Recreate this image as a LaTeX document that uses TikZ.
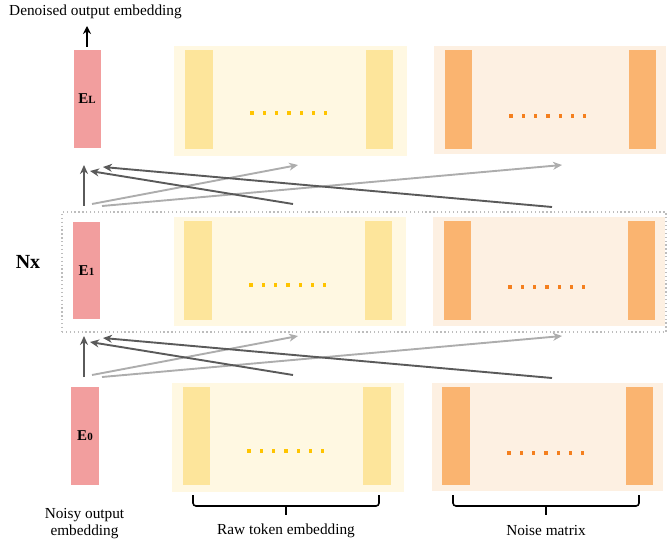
\documentclass[tikz,border=0pt]{standalone}
\usepackage{fontspec}
\setmainfont{Liberation Serif}
\usetikzlibrary{arrows.meta}

\definecolor{epink}{HTML}{F29E9E}
\definecolor{ybg}{HTML}{FFF8E2}
\definecolor{ybar}{HTML}{FDE59B}
\definecolor{ydot}{HTML}{FFC400}
\definecolor{obg}{HTML}{FDF0E2}
\definecolor{obar}{HTML}{FAB470}
\definecolor{odot}{HTML}{F47F1E}
\definecolor{adark}{HTML}{5A5A5A}
\definecolor{alight}{HTML}{ADADAD}
\definecolor{boxgray}{HTML}{BDBDBD}

\tikzset{
  box/.style={anchor=north west, inner sep=0pt, outer sep=0pt, draw=none},
  ebox/.style={box, fill=epink, font=\fontsize{15}{15}\selectfont\bfseries},
  ypanel/.style={box, fill=ybg},
  opanel/.style={box, fill=obg},
  ybarbox/.style={box, fill=ybar},
  obarbox/.style={box, fill=obar},
  darr/.style={draw=adark, line width=1.9pt, -{Stealth[length=9pt,width=8pt]}},
  larr/.style={draw=alight, line width=1.9pt, -{Stealth[length=9pt,width=8pt]}},
  bracket/.style={draw=black, line width=1.6pt, rounded corners=3pt},
  lbl/.style={font=\fontsize{15.3}{18}\selectfont, align=center, inner sep=0pt},
}

\begin{document}
\begin{tikzpicture}[x=1pt,y=-1pt]
\useasboundingbox (0,0) rectangle (668,545);

% ---------- dotted frame around the repeated layer ----------
\node[box, draw=boxgray, line width=1.3pt, dash pattern=on 1.3pt off 2.6pt,
      minimum width=604pt, minimum height=120pt] (rep) at (62,212) {};
\node[font=\fontsize{20}{20}\selectfont\bfseries, inner sep=0pt] (nx) at (28,262) {Nx};

% ---------- top row (output) ----------
\node[ebox, minimum width=27pt, minimum height=98pt] (eL) at (73.5,50) {E{\fontsize{11}{11}\selectfont L}};
\node[ypanel, minimum width=233pt, minimum height=110pt] (yT) at (174,46) {};
\node[ybarbox, minimum width=28pt, minimum height=99pt] (yTl) at (185,50) {};
\node[ybarbox, minimum width=27pt, minimum height=99pt] (yTr) at (366,50) {};
\node[opanel, minimum width=232pt, minimum height=108pt] (oT) at (434,46) {};
\node[obarbox, minimum width=27pt, minimum height=99pt] (oTl) at (445,50) {};
\node[obarbox, minimum width=27pt, minimum height=99pt] (oTr) at (629,50) {};
\foreach \i in {0,...,6} {
  \fill[ydot] ({252+12.3*\i-1.6},{113-1.6}) rectangle ++(3.2,3.2);
  \fill[odot] ({511+12.3*\i-1.6},{116-1.6}) rectangle ++(3.2,3.2);
}

% ---------- middle row (repeated layer) ----------
\node[ebox, minimum width=27pt, minimum height=97pt] (e1) at (73,222) {E{\fontsize{11}{11}\selectfont 1}};
\node[ypanel, minimum width=232pt, minimum height=109pt] (yM) at (174,217) {};
\node[ybarbox, minimum width=28pt, minimum height=99pt] (yMl) at (184,221) {};
\node[ybarbox, minimum width=27pt, minimum height=99pt] (yMr) at (365,221) {};
\node[opanel, minimum width=232pt, minimum height=109pt] (oM) at (433,217) {};
\node[obarbox, minimum width=27pt, minimum height=99pt] (oMl) at (444,221) {};
\node[obarbox, minimum width=27pt, minimum height=99pt] (oMr) at (628,221) {};
\foreach \i in {0,...,6} {
  \fill[ydot] ({251+12.3*\i-1.6},{285-1.6}) rectangle ++(3.2,3.2);
  \fill[odot] ({510+12.3*\i-1.6},{287-1.6}) rectangle ++(3.2,3.2);
}

% ---------- bottom row (input) ----------
\node[ebox, minimum width=28pt, minimum height=98pt] (e0) at (71,387) {E{\fontsize{11}{11}\selectfont 0}};
\node[ypanel, minimum width=232pt, minimum height=109pt] (yB) at (172,383) {};
\node[ybarbox, minimum width=27pt, minimum height=98pt] (yBl) at (183,387) {};
\node[ybarbox, minimum width=28pt, minimum height=98pt] (yBr) at (363,387) {};
\node[opanel, minimum width=231pt, minimum height=108pt] (oB) at (432,383) {};
\node[obarbox, minimum width=28pt, minimum height=98pt] (oBl) at (442,387) {};
\node[obarbox, minimum width=27pt, minimum height=98pt] (oBr) at (626,387) {};
\foreach \i in {0,...,6} {
  \fill[ydot] ({249+12.3*\i-1.6},{451-1.6}) rectangle ++(3.2,3.2);
  \fill[odot] ({509+12.3*\i-1.6},{453-1.6}) rectangle ++(3.2,3.2);
}

% ---------- connectors between layers ----------
\foreach \s/\dy in {u/0, l/171} {
  \coordinate (vs\s) at (84,206+\dy);   \coordinate (ve\s) at (84,165+\dy);
  \coordinate (das\s) at (293,204+\dy); \coordinate (dae\s) at (90,171+\dy);
  \coordinate (dbs\s) at (552,207+\dy); \coordinate (dbe\s) at (103,167+\dy);
  \coordinate (las\s) at (92,204+\dy);  \coordinate (lae\s) at (298,165+\dy);
  \coordinate (lbs\s) at (102,206+\dy); \coordinate (lbe\s) at (562,165+\dy);
  \draw[larr] (las\s) -- (lae\s);
  \draw[larr] (lbs\s) -- (lbe\s);
  \draw[darr] (vs\s) -- (ve\s);
  \draw[darr] (das\s) -- (dae\s);
  \draw[darr] (dbs\s) -- (dbe\s);
}

% ---------- output arrow and labels ----------
\node[lbl, anchor=center] (outlbl) at (95.5,12) {Denoised output embedding};
\coordinate (outbase) at (87,47);
\coordinate (outtip) at (87,26);
\draw[draw=black, line width=2.2pt, -{Stealth[length=8pt,width=8pt]}] (outbase) -- (outtip);

\node[lbl] (inlbl) at (84.5,524) {Noisy output\\[-1pt]embedding};

% brackets under the token and noise panels
\draw[bracket] (193,495) -- (193,506) -- (379,506) -- (379,495);
\draw[bracket] (286,506) -- (286,515);
\draw[bracket] (453,495) -- (453,506) -- (639,506) -- (639,495);
\draw[bracket] (546,506) -- (546,515);

\node[lbl] (rawlbl) at (286,531) {Raw token embedding};
\node[lbl] (noiselbl) at (546,531) {Noise matrix};
\end{tikzpicture}
\end{document}
